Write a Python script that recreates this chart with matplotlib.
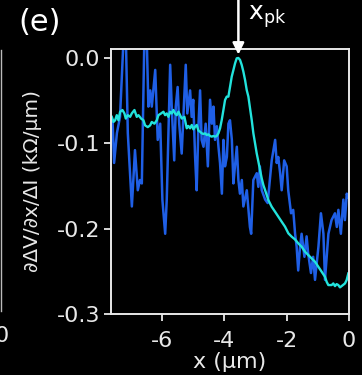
import numpy as np
import matplotlib.pyplot as plt
from matplotlib.lines import Line2D

plt.rcParams['font.family'] = 'DejaVu Sans'
plt.rcParams['axes.unicode_minus'] = False

# derivative of the measured voltage profile (noisy trace)
x_meas = [-7.59, -7.54, -7.45, -7.35, -7.24, -7.16, -7.10, -6.97, -6.87, -6.78,
          -6.71, -6.65, -6.57, -6.49, -6.44, -6.38, -6.33, -6.22, -6.14, -6.06,
          -5.99, -5.90, -5.85, -5.74, -5.69, -5.61, -5.56, -5.50, -5.45, -5.37,
          -5.24, -5.19, -5.10, -5.05, -5.00, -4.94, -4.89, -4.83, -4.78, -4.73,
          -4.67, -4.60, -4.53, -4.46, -4.40, -4.35, -4.30, -4.24, -4.19, -4.14,
          -4.08, -4.03, -3.98, -3.92, -3.87, -3.82, -3.76, -3.71, -3.66, -3.60,
          -3.55, -3.50, -3.44, -3.39, -3.28, -3.18, -3.14, -3.07, -2.96, -2.91,
          -2.86, -2.80, -2.69, -2.61, -2.53, -2.48, -2.37, -2.32, -2.27, -2.21,
          -2.16, -2.08, -2.00, -1.95, -1.86, -1.79, -1.73, -1.68, -1.63, -1.57,
          -1.52, -1.43, -1.36, -1.31, -1.22, -1.15, -1.09, -0.98, -0.90, -0.82,
          -0.77, -0.66, -0.56, -0.45, -0.39, -0.34, -0.26, -0.18, -0.13, -0.07,
          -0.04]
d_meas = [-0.073, -0.123, -0.088, -0.069, 0.02, 0.02, -0.088, -0.174, -0.108, -0.155,
          -0.143, -0.147, 0.02, 0.02, -0.057, -0.038, -0.057, -0.014, -0.096, -0.077,
          -0.166, -0.206, -0.166, -0.008, -0.057, -0.120, -0.057, -0.034, -0.077, -0.112,
          -0.008, -0.065, -0.038, -0.069, -0.049, -0.116, -0.155, -0.077, -0.038, -0.096,
          -0.104, -0.077, -0.127, -0.049, -0.077, -0.057, -0.096, -0.080, -0.104, -0.123,
          -0.159, -0.096, -0.127, -0.116, -0.077, -0.073, -0.096, -0.147, -0.127, -0.104,
          -0.143, -0.159, -0.143, -0.174, -0.155, -0.198, -0.206, -0.143, -0.135, -0.151,
          -0.127, -0.155, -0.166, -0.170, -0.139, -0.120, -0.096, -0.123, -0.116, -0.135,
          -0.155, -0.120, -0.127, -0.155, -0.182, -0.178, -0.206, -0.221, -0.249, -0.221,
          -0.206, -0.233, -0.209, -0.229, -0.252, -0.233, -0.260, -0.221, -0.182, -0.206,
          -0.260, -0.206, -0.190, -0.182, -0.198, -0.178, -0.206, -0.166, -0.190, -0.159,
          -0.163]

# simulated derivative (smooth trace)
x_sim = [-7.614, -7.561, -7.507, -7.454, -7.400, -7.347, -7.272, -7.208, -7.165, -7.101,
         -7.026, -6.973, -6.887, -6.812, -6.759, -6.673, -6.598, -6.545, -6.459, -6.384,
         -6.331, -6.245, -6.170, -6.117, -6.031, -5.957, -5.903, -5.850, -5.796, -5.743,
         -5.689, -5.636, -5.582, -5.529, -5.475, -5.422, -5.368, -5.283,
         -5.208, -5.154, -5.101, -5.047, -4.994, -4.940, -4.887, -4.833, -4.780, -4.726,
         -4.673, -4.619, -4.566, -4.512, -4.459, -4.405, -4.352, -4.299, -4.245, -4.192,
         -4.138, -4.085, -4.031, -3.978, -3.924, -3.871, -3.817, -3.764, -3.710, -3.657,
         -3.604, -3.550, -3.497, -3.443, -3.390, -3.336, -3.283, -3.229, -3.176, -3.122,
         -3.069, -3.015, -2.962, -2.908, -2.855, -2.801, -2.748, -2.694,
         -2.588, -2.481, -2.374, -2.267, -2.160, -2.053, -1.946, -1.840, -1.733, -1.626,
         -1.519, -1.412, -1.305, -1.198, -1.091, -0.984, -0.877, -0.770, -0.717, -0.663,
         -0.556, -0.503, -0.449, -0.396, -0.342, -0.289, -0.235, -0.128, -0.075, -0.021]
d_sim = [-0.069, -0.075, -0.073, -0.067, -0.073, -0.063, -0.061, -0.065, -0.071, -0.067,
         -0.069, -0.065, -0.061, -0.069, -0.067, -0.071, -0.073, -0.079, -0.081, -0.079,
         -0.075, -0.077, -0.073, -0.067, -0.065, -0.063, -0.067, -0.065, -0.069, -0.063,
         -0.065, -0.061, -0.065, -0.067, -0.063, -0.067, -0.071, -0.069,
         -0.0824, -0.0797, -0.0824, -0.0785, -0.0836, -0.0805, -0.0785, -0.0852, -0.0864, -0.0883,
         -0.0891, -0.0883, -0.0903, -0.0895, -0.0914, -0.0922, -0.0914, -0.0922, -0.0914, -0.0883,
         -0.0824, -0.0727, -0.0610, -0.0492, -0.0453, -0.0453, -0.0336, -0.0219, -0.0141, -0.0063,
         -0.0004, 0.0, -0.0023, -0.0082, -0.0160, -0.0258, -0.0375, -0.0453, -0.0590, -0.0727,
         -0.0883, -0.1000, -0.1118, -0.1215, -0.1313, -0.1411, -0.1489, -0.1547,
         -0.1665, -0.1743, -0.1801, -0.1860, -0.1919, -0.1977, -0.2055, -0.2094, -0.2126, -0.2173,
         -0.2212, -0.2270, -0.2310, -0.2349, -0.2388, -0.2446, -0.2505, -0.2564, -0.2622, -0.2661,
         -0.2661, -0.2642, -0.2673, -0.2650, -0.2661, -0.2688, -0.2673, -0.2642, -0.2603, -0.2525]

x_ticks = [-6, -4, -2, 0]
y_ticks = [0.0, -0.1, -0.2, -0.3]

fg = '#e8e8e8'
fig = plt.figure(figsize=(3.62, 3.75), dpi=100, facecolor='black')
ax = fig.add_axes([0.3066, 0.1627, 0.6574, 0.7066], facecolor='black')

ax.plot(x_meas, d_meas, color='#1f5fe6', lw=1.8)
ax.plot(x_sim, d_sim, color='#22e3dc', lw=1.7)

ax.set_xlim(-7.64, 0)
ax.set_ylim(-0.3, 0.0105)
ax.set_xticks(x_ticks)
ax.set_xticklabels([str(t) for t in x_ticks])
ax.set_yticks(y_ticks)
ax.set_yticklabels(['%.1f' % t for t in y_ticks])

for s in ax.spines.values():
    s.set_color(fg)
    s.set_linewidth(1.4)
ax.tick_params(colors=fg, labelcolor=fg, labelsize=16, length=5, width=1.3, pad=3)
ax.tick_params(axis='x', pad=7)

ax.set_xlabel('x (µm)', color=fg, fontsize=16, labelpad=1)
ax.set_ylabel('∂ΔV/∂x/ΔI (kΩ/µm)', color=fg, fontsize=14.5, labelpad=10)

# arrow marking the peak of the simulated curve
i_pk = int(np.argmax(d_sim))
x_pk = x_sim[i_pk]
ax.annotate('', xy=(x_pk, d_sim[i_pk] + 0.004), xycoords='data',
            xytext=(x_pk, 1.0), textcoords=('data', 'figure fraction'),
            arrowprops=dict(arrowstyle='-|>', color='white', lw=1.8,
                            mutation_scale=17, shrinkA=0, shrinkB=0),
            annotation_clip=False)
fig.text(0.685, 0.955, r'x$_\mathregular{pk}$', color='white', fontsize=18,
         ha='left', va='center')

fig.text(0.052, 0.94, '(e)', color='white', fontsize=22, ha='left', va='center')

# edge of the neighbouring panel
fig.add_artist(Line2D([0.003, 0.003], [0.17, 0.867], transform=fig.transFigure,
                      color='#bbbbbb', lw=1.0))
fig.text(0.004, 0.105, '0', color=fg, fontsize=16, ha='center', va='center')

fig.savefig('out.png', dpi=100, facecolor='black')
